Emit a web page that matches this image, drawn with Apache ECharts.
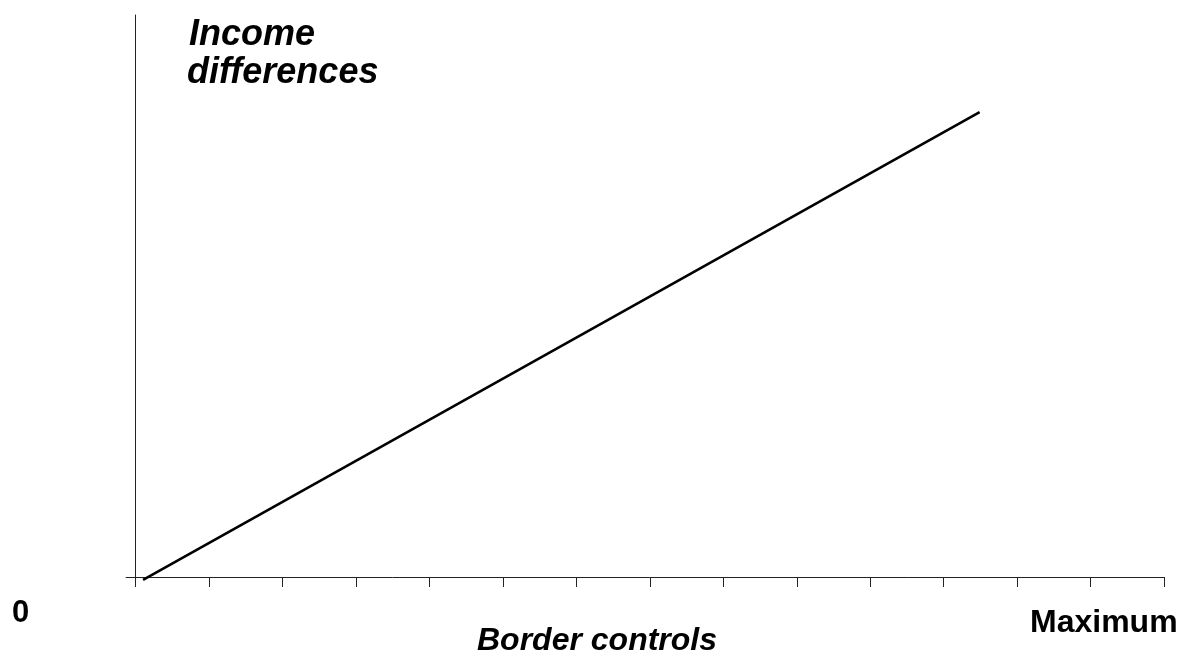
<!DOCTYPE html>
<html>
<head>
<meta charset="utf-8">
<script src="https://cdn.jsdelivr.net/npm/echarts@6/dist/echarts.min.js"></script>
<style>html,body{margin:0;padding:0;background:#fff;}#c{width:1188px;height:655px;}</style>
</head>
<body>
<div id="c"></div>
<script>
// Data (x in units of axis tick intervals, y on a 0–10 scale)
var lineX = [0.1, 11.49];
var lineY = [-0.05, 8.27];
var xTicks = [0, 14, 1];      // min, max, interval
var yRange = [0, 10];
var labelYTitle = ['Income', 'differences'];
var labelXTitle = 'Border controls';
var labelMin = '0';
var labelMax = 'Maximum';

var FONT = '"Liberation Sans", Arial, sans-serif';
var chart = echarts.init(document.getElementById('c'), null, {renderer: 'canvas'});
var pts = lineX.map(function (x, i) { return [x, lineY[i]]; });

chart.setOption({
  animation: false,
  backgroundColor: '#fff',
  grid: {left: 135.7, right: 24, top: 15, bottom: 78, containLabel: false},
  xAxis: {
    type: 'value', min: xTicks[0], max: xTicks[1], interval: xTicks[2],
    axisLine: {show: true, lineStyle: {color: '#222', width: 1}},
    axisTick: {show: true, inside: false, length: 10, lineStyle: {color: '#222', width: 1}},
    axisLabel: {show: false},
    splitLine: {show: false}
  },
  yAxis: {
    type: 'value', min: yRange[0], max: yRange[1], interval: 10,
    axisLine: {show: true, lineStyle: {color: '#222', width: 1}},
    axisTick: {show: true, length: 10, customValues: [0], lineStyle: {color: '#222', width: 1}},
    axisLabel: {show: false},
    splitLine: {show: false}
  },
  series: [{
    type: 'line', data: pts, showSymbol: false, clip: false,
    lineStyle: {color: '#000', width: 2.6}
  }],
  graphic: [
    {type: 'text', left: 189, top: 17, style: {text: labelYTitle[0], font: 'italic bold 36px ' + FONT, fill: '#000'}},
    {type: 'text', left: 187, top: 55, style: {text: labelYTitle[1], font: 'italic bold 36px ' + FONT, fill: '#000'}},
    {type: 'text', left: 477, top: 625, style: {text: labelXTitle, font: 'italic bold 32px ' + FONT, fill: '#000'}},
    {type: 'text', left: 12, top: 598, style: {text: labelMin, font: 'bold 31px ' + FONT, fill: '#000'}},
    {type: 'text', left: 1030, top: 607, style: {text: labelMax, font: 'bold 32px ' + FONT, fill: '#000'}}
  ]
});
</script>
</body>
</html>
